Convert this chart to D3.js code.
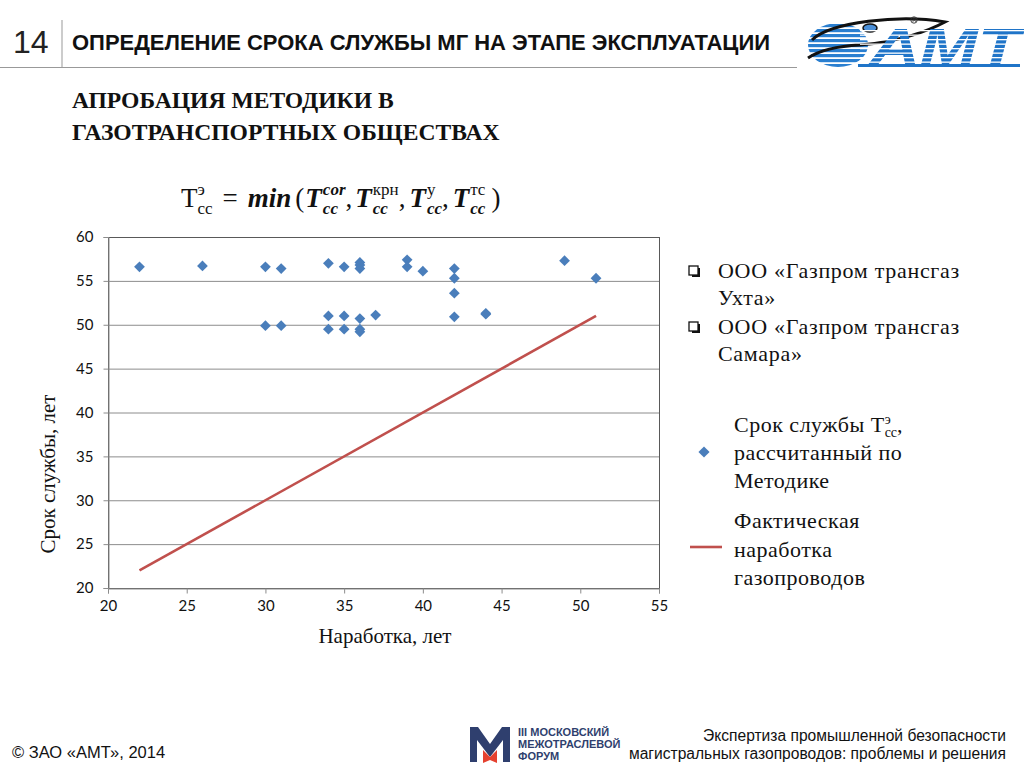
<!DOCTYPE html>
<html><head><meta charset="utf-8">
<script src="https://cdn.jsdelivr.net/npm/d3@7"></script>
<style>
html,body{margin:0;padding:0;background:#fff;}
svg{display:block;}
</style></head>
<body>
<svg id="c" width="1024" height="768"></svg>
<script>
// ---- data ----
const workYears   = [22,26,30,31,34,35,36,36,36,39,39,40,42,42,42,49,51, 30,31,34,34,35,35,36,36,36,37,42,44,44];
const serviceLife = [56.6,56.7,56.6,56.4,57.0,56.6,57.1,56.8,56.4,57.4,56.6,56.1,56.4,55.3,53.6,57.3,55.3, 49.9,49.9,51.0,49.5,51.0,49.5,50.7,49.5,49.2,51.1,50.9,51.3,51.2];
const actualX = [22,51];
const actualY = [22,51];
const xTicks = [20,25,30,35,40,45,50,55];
const yTicks = [20,25,30,35,40,45,50,55,60];
const companies = [["ООО «Газпром трансгаз","Ухта»"],["ООО «Газпром трансгаз","Самара»"]];

const svg = d3.select("#c");
const SERIF = "'Liberation Serif','DejaVu Serif',serif";
const SANS = "'Liberation Sans',Arial,sans-serif";
const NUM = "Lato,'Open Sans',sans-serif";

// ---- header ----
svg.append("text").attr("x",13).attr("y",53).attr("font-family",SANS).attr("font-size",32).attr("fill","#222").text("14");
svg.append("line").attr("x1",62).attr("x2",62).attr("y1",20).attr("y2",68).attr("stroke","#999").attr("stroke-width",1);
svg.append("line").attr("x1",0).attr("x2",797).attr("y1",67.5).attr("y2",67.5).attr("stroke","#999").attr("stroke-width",1);
svg.append("text").attr("x",72).attr("y",50).attr("font-family","'Liberation Sans Narrow','Arial Narrow',"+SANS)
  .attr("font-stretch","condensed").attr("font-weight","bold").attr("font-size",22).attr("fill","#111")
  .attr("textLength",698).attr("lengthAdjust","spacingAndGlyphs")
  .text("ОПРЕДЕЛЕНИЕ СРОКА СЛУЖБЫ МГ НА ЭТАПЕ ЭКСПЛУАТАЦИИ");

// AMT logo
const logo = svg.append("g");
const cp = svg.append("defs").append("clipPath").attr("id","glb");
cp.append("ellipse").attr("cx",838).attr("cy",45).attr("rx",30).attr("ry",22);
const glb = logo.append("g").attr("clip-path","url(#glb)");
for(let i=0;i<9;i++){
  glb.append("rect").attr("x",805).attr("y",24+i*5).attr("width",70).attr("height",3.2).attr("fill","#2a7fd0");
}
logo.append("path").attr("d","M812,40 C830,22 900,14 945,22 C930,30 900,42 860,45 C840,46 820,50 808,58")
  .attr("fill","none").attr("stroke","#111").attr("stroke-width",3);
logo.append("ellipse").attr("cx",870).attr("cy",28).attr("rx",7).attr("ry",4).attr("fill","#4a8fd8").attr("stroke","#111").attr("stroke-width",1.5);
logo.append("text").attr("x",870).attr("y",64).attr("font-family",SANS).attr("font-weight","bold").attr("font-style","italic")
  .attr("font-size",50).attr("fill","#1f74c8").attr("textLength",150).attr("lengthAdjust","spacingAndGlyphs").text("АМТ");
for(let i=0;i<8;i++){
  logo.append("rect").attr("x",860).attr("y",30+i*4.5).attr("width",165).attr("height",1.3).attr("fill","#fff");
}
logo.append("rect").attr("x",858).attr("y",64).attr("width",162).attr("height",3).attr("fill","#1f74c8");
logo.append("circle").attr("cx",914).attr("cy",20).attr("r",3.2).attr("fill","none").attr("stroke","#333").attr("stroke-width",0.9);
logo.append("path").attr("d","M913,22 L913,18 L915,18 Q916,19 915,20 L913,20 M914.5,20 L916,22").attr("fill","none").attr("stroke","#333").attr("stroke-width",0.7);

// subtitle
svg.append("text").attr("x",72).attr("y",108).attr("font-family",SERIF).attr("font-weight","bold").attr("font-size",23.6).attr("fill","#111").text("АПРОБАЦИЯ МЕТОДИКИ В");
svg.append("text").attr("x",72).attr("y",140).attr("font-family",SERIF).attr("font-weight","bold").attr("font-size",23.6).attr("fill","#111").text("ГАЗОТРАНСПОРТНЫХ ОБЩЕСТВАХ");

// formula: one text element, relative tspans (dx/dy)
const FS = 27, SS = 17;
function formula(x0, y0, parts){
  const t = svg.append("text").attr("x",x0).attr("y",y0).attr("font-family",SERIF).attr("fill","#111");
  let curDy = 0, pendDx = 0;
  const add = (s, size, b, i, dy) => {
    const ts = t.append("tspan").attr("dx",pendDx).attr("dy",dy-curDy).attr("font-size",size)
      .attr("font-weight",b?"bold":"normal").attr("font-style",i?"italic":"normal").text(s);
    curDy = dy; pendDx = 0;
    return ts.node().getComputedTextLength();
  };
  parts.forEach(p=>{
    if(p.stack){
      const w1 = add(p.stack[0].t,SS,p.stack[0].b,p.stack[0].i,p.stack[0].dy);
      pendDx = -w1;
      const w2 = add(p.stack[1].t,SS,p.stack[1].b,p.stack[1].i,p.stack[1].dy);
      pendDx = Math.max(0,w1-w2) + (p.gap||0);
    } else {
      add(p.t,FS,p.b,p.i,0);
      pendDx = p.gap||0;
    }
  });
}
const Tc = (sup,supB,supI,gap)=>[{t:"T",b:1,i:1,gap:1},{stack:[{t:sup,dy:-12,b:supB,i:supI},{t:"cc",dy:7,b:1,i:1}],gap:gap||0}];
formula(181,207,[
  {t:"Т"},{stack:[{t:"э",dy:-12},{t:"сс",dy:7}],gap:10},
  {t:"=",gap:10},{t:"min",b:1,i:1,gap:4},{t:"(",gap:1},
  ...Tc("cor",1,1),{t:",",gap:3},
  ...Tc("крн",0,0),{t:",",gap:4},
  ...Tc("у",0,0),{t:",",gap:4},
  ...Tc("тс",0,0,6),{t:")"}
]);

// ---- chart ----
const x = d3.scaleLinear().domain([20,55]).range([108,659]);
const y = d3.scaleLinear().domain([20,60]).range([588,237]);

svg.append("g").selectAll("line").data(yTicks.slice(1)).join("line")
  .attr("x1",x(20)).attr("x2",x(55)).attr("y1",d=>y(d)+0.5).attr("y2",d=>y(d)+0.5)
  .attr("stroke","#8c8c8c").attr("stroke-width",1);
svg.append("rect").attr("x",x(20)+0.5).attr("y",y(60)+0.5).attr("width",x(55)-x(20)).attr("height",y(20)-y(60))
  .attr("fill","none").attr("stroke","#595959").attr("stroke-width",1);

const xAxis = svg.append("g").attr("transform",`translate(0,${y(20)+0.5})`)
  .call(d3.axisBottom(x).tickValues(xTicks).tickSize(5).tickPadding(7).tickFormat(d3.format("d")));
const yAxis = svg.append("g").attr("transform",`translate(${x(20)+0.5},0)`)
  .call(d3.axisLeft(y).tickValues(yTicks).tickSize(5).tickPadding(10).tickFormat(d3.format("d")));
[xAxis,yAxis].forEach(a=>{
  a.select(".domain").attr("stroke","#8c8c8c");
  a.selectAll(".tick line").attr("stroke","#8c8c8c");
  a.selectAll(".tick text").attr("font-family",NUM).attr("font-size",15).attr("fill","#111");
});

svg.append("path").datum(actualX.map((d,i)=>[d,actualY[i]]))
  .attr("d",d3.line().x(d=>x(d[0])).y(d=>y(d[1])))
  .attr("fill","none").attr("stroke","#c0504d").attr("stroke-width",2.6);

svg.append("g").selectAll("path").data(workYears.map((d,i)=>[d,serviceLife[i]])).join("path")
  .attr("d",d3.symbol().type(d3.symbolSquare).size(58)())
  .attr("transform",d=>`translate(${x(d[0])},${y(d[1])}) rotate(45)`)
  .attr("fill","#4a7ebb");

svg.append("text").attr("x",385).attr("y",643).attr("text-anchor","middle").attr("font-family",SERIF).attr("font-size",21).attr("fill","#111").text("Наработка, лет");
svg.append("text").attr("transform","translate(55,474) rotate(-90)").attr("text-anchor","middle").attr("font-family",SERIF).attr("font-size",21).attr("fill","#111").text("Срок службы, лет");

// ---- right legend ----
const lg = svg.append("g").attr("font-family",SERIF).attr("font-size",22).attr("letter-spacing",0.7).attr("fill","#111");
companies.forEach((c,i)=>{
  const by = 278 + i*56;
  lg.append("rect").attr("x",689).attr("y",by-12).attr("width",9).attr("height",9).attr("fill","#fff").attr("stroke","#111").attr("stroke-width",1.3);
  lg.append("rect").attr("x",692).attr("y",by-3).attr("width",8).attr("height",2).attr("fill","#111");
  lg.append("rect").attr("x",698).attr("y",by-10).attr("width",2).attr("height",9).attr("fill","#111");
  lg.append("text").attr("x",718).attr("y",by).text(c[0]);
  lg.append("text").attr("x",718).attr("y",by+27).text(c[1]);
});
lg.append("path").attr("d",d3.symbol().type(d3.symbolSquare).size(62)()).attr("transform","translate(704,452) rotate(45)").attr("fill","#4a7ebb");
{
  const t1 = lg.append("text").attr("x",734).attr("y",432).attr("letter-spacing",0.5);
  t1.append("tspan").text("Срок службы Т");
  const sup = t1.append("tspan").attr("dy",-8).attr("font-size",14).attr("letter-spacing",0).text("э");
  const sw = sup.node().getComputedTextLength();
  t1.append("tspan").attr("dx",-sw).attr("dy",13).attr("font-size",14).attr("letter-spacing",0).text("сс");
  t1.append("tspan").attr("dy",-5).text(",");
}
lg.append("text").attr("x",734).attr("y",460).attr("letter-spacing",0.5).text("рассчитанный по");
lg.append("text").attr("x",734).attr("y",488).attr("letter-spacing",0.5).text("Методике");
lg.append("line").attr("x1",690).attr("x2",722).attr("y1",547).attr("y2",547).attr("stroke","#c0504d").attr("stroke-width",2.6);
lg.append("text").attr("x",734).attr("y",528).attr("letter-spacing",0.5).text("Фактическая");
lg.append("text").attr("x",734).attr("y",557).attr("letter-spacing",0.5).text("наработка");
lg.append("text").attr("x",734).attr("y",585).attr("letter-spacing",0.5).text("газопроводов");

// ---- footer ----
svg.append("text").attr("x",12).attr("y",758).attr("font-family",SANS).attr("font-size",16.5).attr("fill","#111").text("© ЗАО «АМТ», 2014");
const fl = svg.append("g");
fl.append("path").attr("d","M470,727 L478,727 L490,744 L502,727 L510,727 L510,762 L503,762 L503,740 L490,757 L477,740 L477,762 L470,762 Z").attr("fill","#2f3f6e");
fl.append("path").attr("d","M483,750 L490,757 L497,750 L497,763 L490,760 L483,763 Z").attr("fill","#e5412f");
const ft = fl.append("g").attr("font-family",SANS).attr("font-weight","bold").attr("font-size",11).attr("fill","#2f3f6e");
ft.append("text").attr("x",518).attr("y",736).text("III МОСКОВСКИЙ");
ft.append("text").attr("x",518).attr("y",748).text("МЕЖОТРАСЛЕВОЙ");
ft.append("text").attr("x",518).attr("y",760).text("ФОРУМ");
svg.append("text").attr("x",1006).attr("y",741).attr("text-anchor","end").attr("font-family",SANS).attr("font-size",15.6).attr("fill","#111").text("Экспертиза промышленной безопасности");
svg.append("text").attr("x",1006).attr("y",759).attr("text-anchor","end").attr("font-family",SANS).attr("font-size",15.6).attr("fill","#111").text("магистральных газопроводов: проблемы и решения");
</script>
</body></html>
